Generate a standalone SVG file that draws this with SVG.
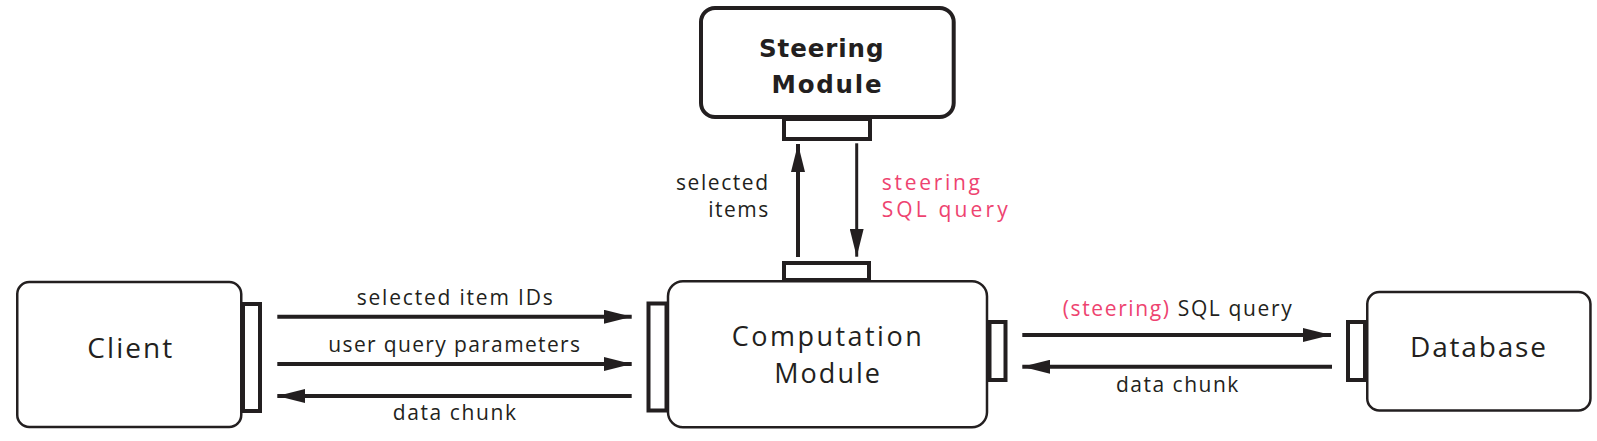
<svg xmlns="http://www.w3.org/2000/svg" width="1597" height="441" viewBox="0 0 1597 441">
<style>
.box{fill:#fff;stroke:#231f20;stroke-width:2.5}
.thick{fill:#fff;stroke:#231f20;stroke-width:4}
.port{fill:#fff;stroke:#231f20;stroke-width:4}
.line{fill:none;stroke:#231f20;stroke-width:4}
.thin{fill:none;stroke:#231f20;stroke-width:3}
.lbl{font-family:"Open Sans","Noto Sans",sans-serif;font-size:21px;fill:#231f20}
.node{font-family:"Open Sans","Noto Sans",sans-serif;font-size:28px;fill:#231f20}
.bold{font-family:"DejaVu Sans","Open Sans",sans-serif;font-size:24.5px;font-weight:bold;fill:#231f20}
.pink{fill:#ee4370}
</style>
<defs>
<marker id="ah" markerUnits="userSpaceOnUse" markerWidth="28" markerHeight="14" refX="28" refY="7" orient="auto" viewBox="0 0 28 14">
<path d="M0,0 L28,7 L0,14 z" fill="#231f20"/>
</marker>
</defs>
<g id="client">
<rect class="box" x="17.25" y="282" width="224" height="145" rx="12"/>
<rect class="port" x="243" y="304" width="17" height="107"/>
<text class="node" x="87.3" y="358.3" textLength="85" lengthAdjust="spacing">Client</text>
</g>
<g id="computation">
<rect class="box" x="668" y="281.25" width="319" height="146" rx="15"/>
<rect class="port" x="648.5" y="303.5" width="18" height="107"/>
<rect class="port" x="989.5" y="322" width="16" height="58"/>
<rect class="port" x="784" y="263" width="85" height="17"/>
<text class="node" style="font-size:27px" x="731.7" y="346" textLength="190" lengthAdjust="spacing">Computation</text>
<text class="node" style="font-size:27px" x="774.3" y="382.7" textLength="105.7" lengthAdjust="spacing">Module</text>
</g>
<g id="steering">
<rect class="thick" x="701" y="8" width="252.7" height="109" rx="14"/>
<rect class="port" x="784" y="119" width="86" height="20"/>
<text class="bold" x="759" y="56.7" textLength="124.5" lengthAdjust="spacing">Steering</text>
<text class="bold" x="771.5" y="93.3" textLength="110" lengthAdjust="spacing">Module</text>
</g>
<g id="database">
<rect class="box" x="1367.25" y="292" width="223.2" height="118.5" rx="12"/>
<rect class="port" x="1348" y="322" width="17" height="58"/>
<text class="node" x="1410" y="357.3" textLength="136" lengthAdjust="spacing">Database</text>
</g>
<g id="connectors">
<line class="line" x1="277.3" y1="316.7" x2="631.7" y2="316.7" marker-end="url(#ah)"/>
<line class="line" x1="277.3" y1="364" x2="631.7" y2="364" marker-end="url(#ah)"/>
<line class="line" x1="631.7" y1="396" x2="277.3" y2="396" marker-end="url(#ah)"/>
<line class="line" x1="1022.3" y1="335" x2="1331" y2="335" marker-end="url(#ah)"/>
<line class="line" x1="1332" y1="366.7" x2="1022.3" y2="366.7" marker-end="url(#ah)"/>
<line class="line" x1="798" y1="257" x2="798" y2="144" marker-end="url(#ah)"/>
<line class="thin" x1="856.7" y1="143.3" x2="856.7" y2="256.7" marker-end="url(#ah)"/>
<text class="lbl" x="356.7" y="305" textLength="196" lengthAdjust="spacing">selected item IDs</text>
<text class="lbl" x="328.3" y="351.7" textLength="251.7" lengthAdjust="spacing">user query parameters</text>
<text class="lbl" x="392.7" y="420" textLength="123.3" lengthAdjust="spacing">data chunk</text>
<text class="lbl" x="1062.7" y="316" textLength="229" lengthAdjust="spacing"><tspan class="pink">(steering)</tspan> SQL query</text>
<text class="lbl" x="1116" y="391.7" textLength="122.3" lengthAdjust="spacing">data chunk</text>
<text class="lbl" x="676" y="190" textLength="92" lengthAdjust="spacing">selected</text>
<text class="lbl" x="708.3" y="217" textLength="60" lengthAdjust="spacing">items</text>
<text class="lbl pink" x="881.7" y="190" textLength="98.3" lengthAdjust="spacing">steering</text>
<text class="lbl pink" x="881.7" y="217" textLength="126" lengthAdjust="spacing">SQL query</text>
</g>
</svg>
